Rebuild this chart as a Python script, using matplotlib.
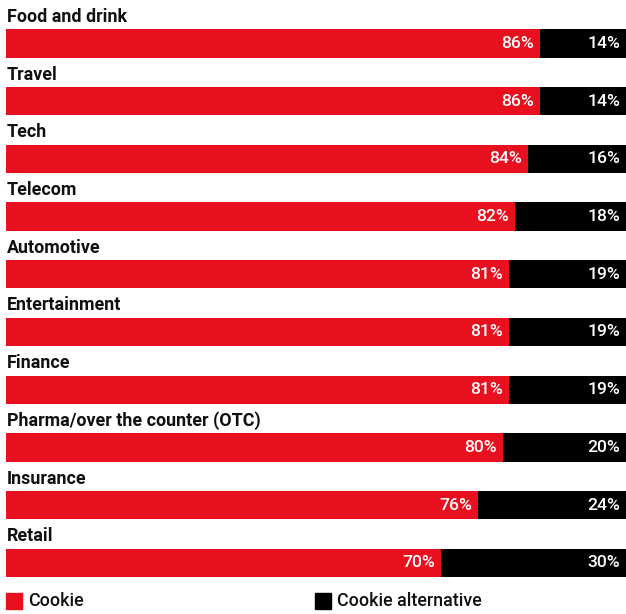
import matplotlib.pyplot as plt
from matplotlib.patches import Rectangle

# data
categories = ['Food and drink', 'Travel', 'Tech', 'Telecom', 'Automotive',
              'Entertainment', 'Finance', 'Pharma/over the counter (OTC)',
              'Insurance', 'Retail']
cookie = [86, 86, 84, 82, 81, 81, 81, 80, 76, 70]
cookie_alt = [14, 14, 16, 18, 19, 19, 19, 20, 24, 30]
series_names = ['Cookie', 'Cookie alternative']

red = '#e8101e'
black = '#000000'
font = ['Roboto', 'DejaVu Sans']

W, H = 626, 614
fig = plt.figure(figsize=(W / 100, H / 100), dpi=100, facecolor='w')

# axes placed in pixel terms, 57.7 px per category; bars run 6..627 px
top_px, bot_px = 0, 590
ax_w = 621
ax = fig.add_axes([6 / W, (H - bot_px) / H, ax_w / W, (bot_px - top_px) / H])
unit = 57.7
y0 = -43.5 / unit
ax.set_ylim(y0 + (bot_px - top_px) / unit, y0)
ax.set_xlim(0, 100)
ax.axis('off')

ypos = list(range(len(categories)))
bh = 0.49
ax.barh(ypos, cookie, height=bh, color=red, edgecolor='none')
ax.barh(ypos, cookie_alt, left=cookie, height=bh, color=black, edgecolor='none')

pad = 6 / ax_w * 100
for i, cat in enumerate(categories):
    ax.text(0.15, i - 0.46, cat, ha='left', va='center', fontsize=12.9,
            fontweight='bold', family=font, color='#111111')
    ax.text(cookie[i] - pad, i, f'{cookie[i]}%', ha='right', va='center',
            fontsize=12.6, fontweight='medium', family=font, color='white')
    ax.text(100 - 7 / ax_w * 100, i, f'{cookie_alt[i]}%', ha='right', va='center',
            fontsize=12.6, fontweight='medium', family=font, color='white')

# legend drawn manually
for x_px, name, c in [(6, series_names[0], red), (315, series_names[1], black)]:
    fig.patches.append(Rectangle((x_px / W, (H - 609) / H), 16 / W, 16 / H,
                                 transform=fig.transFigure, color=c))
    fig.text((x_px + 22) / W, (H - 601) / H, name, ha='left', va='center',
             fontsize=12.9, fontweight='medium', family=font, color='#111111')

fig.savefig('out.png', dpi=100)
